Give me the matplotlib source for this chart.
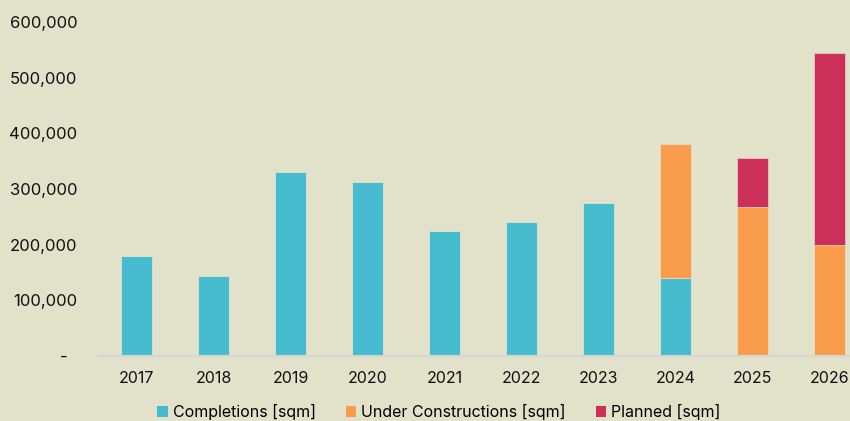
import matplotlib.pyplot as plt
from matplotlib.ticker import FuncFormatter
from matplotlib.patches import Patch
import numpy as np

years = ["2017", "2018", "2019", "2020", "2021", "2022", "2023", "2024", "2025", "2026"]
completions = [180000, 144000, 331000, 313000, 224000, 241000, 275000, 141000, 0, 0]
under_construction = [0, 0, 0, 0, 0, 0, 0, 240000, 268000, 199000]
planned = [0, 0, 0, 0, 0, 0, 0, 0, 88000, 346000]

BG = "#e2e1ca"
TEAL = "#48bccf"
ORANGE = "#f99d4c"
RED = "#cb2f5a"

plt.rcParams['font.family'] = ['Inter', 'DejaVu Sans']

fig = plt.figure(figsize=(8.5, 4.21), dpi=100, facecolor=BG)
ax = fig.add_axes([98 / 850, 65 / 421, 770 / 850, 334 / 421])
ax.set_facecolor(BG)

x = np.arange(len(years))
comp = np.array(completions)
uc = np.array(under_construction)
pl = np.array(planned)

w = 0.4
series = [(comp, np.zeros_like(comp), TEAL, "#d8e6d8"),
          (uc, comp, ORANGE, "#ecd9bd"),
          (pl, comp + uc, RED, "#e0c9bc")]
for vals, base, col, edge in series:
    m = vals > 0
    ax.bar(x[m], vals[m], w, bottom=base[m], color=col, edgecolor=edge, linewidth=0.6)

ax.set_xlim(-0.5, 9.5)
ax.set_ylim(0, 600000)
ax.set_yticks(np.arange(0, 600001, 100000))
ax.yaxis.set_major_formatter(FuncFormatter(lambda v, p: "-  " if v == 0 else f"{v:,.0f}"))
ax.set_xticks(x)
ax.set_xticklabels(years)

for s in ["top", "right", "left"]:
    ax.spines[s].set_visible(False)
ax.spines["bottom"].set_color("#d6d6d6")
ax.spines["bottom"].set_linewidth(1.5)
ax.tick_params(axis="y", length=0, pad=15, labelsize=12, colors="#111111")
ax.tick_params(axis="x", length=0, pad=11, labelsize=11.5, colors="#111111")

handles = [
    Patch(facecolor=TEAL, label="Completions [sqm]"),
    Patch(facecolor=ORANGE, label="Under Constructions [sqm]"),
    Patch(facecolor=RED, label="Planned [sqm]"),
]
fig.legend(handles=handles, loc="center", bbox_to_anchor=(439 / 850, 1 - 412 / 421),
           ncol=3, frameon=False, fontsize=11.5, handlelength=0.65, handleheight=0.65,
           handletextpad=0.3, columnspacing=1.9)

plt.savefig("out.png", facecolor=BG, dpi=100)
